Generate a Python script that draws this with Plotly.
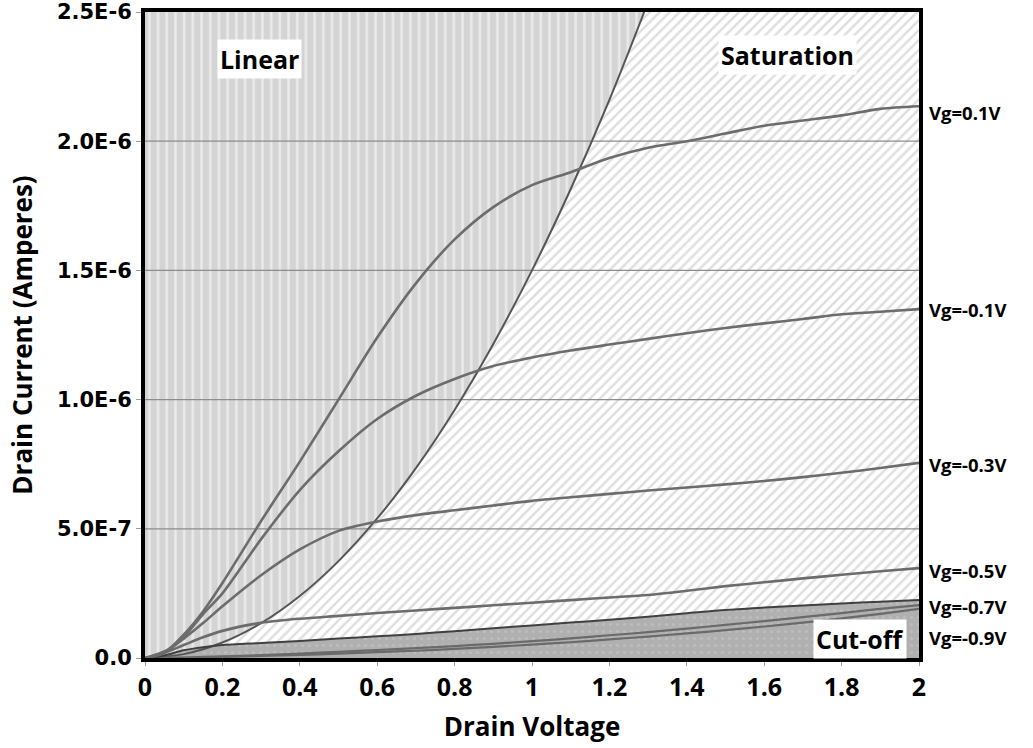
import plotly.graph_objects as go

# Drain voltage grid (V) shared by all transfer curves
drain_v = [0, 0.05, 0.1, 0.15, 0.2, 0.3, 0.4, 0.5, 0.6, 0.7, 0.8, 0.9, 1.0,
           1.1, 1.2, 1.3, 1.4, 1.5, 1.6, 1.7, 1.8, 1.9, 2.0]

# Drain current in microamperes for each gate voltage
id_vg_p01 = [0, 0.02, 0.09, 0.18, 0.29, 0.53, 0.76, 1.0, 1.24, 1.45, 1.62, 1.745, 1.83,
             1.88, 1.935, 1.975, 2.0, 2.03, 2.06, 2.08, 2.10, 2.125, 2.135]
id_vg_m01 = [0, 0.02, 0.08, 0.17, 0.25, 0.46, 0.65, 0.80, 0.925, 1.015, 1.08, 1.13, 1.163,
             1.19, 1.213, 1.235, 1.257, 1.277, 1.295, 1.312, 1.33, 1.34, 1.35]
id_vg_m03 = [0, 0.025, 0.075, 0.135, 0.20, 0.32, 0.42, 0.492, 0.528, 0.553, 0.572, 0.59, 0.608,
             0.622, 0.635, 0.648, 0.66, 0.672, 0.685, 0.70, 0.717, 0.735, 0.755]
id_vg_m05 = [0, 0.02, 0.05, 0.08, 0.105, 0.136, 0.152, 0.163, 0.174, 0.184, 0.194, 0.204, 0.214,
             0.224, 0.234, 0.244, 0.26, 0.278, 0.293, 0.308, 0.322, 0.336, 0.348]
id_vg_m07 = [0, 0.01, 0.03, 0.042, 0.05, 0.058, 0.066, 0.075, 0.084, 0.093, 0.104, 0.115, 0.126,
             0.137, 0.148, 0.16, 0.173, 0.186, 0.195, 0.203, 0.211, 0.218, 0.224]
id_vg_m09 = [0, 0.001, 0.002, 0.004, 0.006, 0.011, 0.017, 0.024, 0.031, 0.038, 0.046, 0.055, 0.065,
             0.076, 0.088, 0.10, 0.114, 0.128, 0.143, 0.158, 0.174, 0.19, 0.205]
id_vg_m11 = [0, 0.0005, 0.001, 0.002, 0.004, 0.008, 0.012, 0.017, 0.023, 0.028, 0.035, 0.043, 0.052,
             0.061, 0.072, 0.083, 0.095, 0.108, 0.122, 0.137, 0.153, 0.171, 0.19]

# Linear / saturation boundary (Vds = Vgs - Vt locus)
sat_v = [0, 0.1, 0.2, 0.3, 0.4, 0.5, 0.6, 0.7, 0.8, 0.9, 1.0, 1.1, 1.2, 1.29]
sat_i = [0, 0.015, 0.06, 0.135, 0.24, 0.375, 0.54, 0.735, 0.96, 1.215, 1.5, 1.815, 2.16, 2.5]

# Axis ticks
x_ticks = [0, 0.2, 0.4, 0.6, 0.8, 1, 1.2, 1.4, 1.6, 1.8, 2]
x_tick_text = ["0", "0.2", "0.4", "0.6", "0.8", "1", "1.2", "1.4", "1.6", "1.8", "2"]
y_ticks = [0, 0.5, 1.0, 1.5, 2.0, 2.5]
y_tick_text = ["0.0", "5.0E-7", "1.0E-6", "1.5E-6", "2.0E-6", "2.5E-6"]

# Curve labels on the right edge
curve_labels = ["Vg=0.1V", "Vg=-0.1V", "Vg=-0.3V", "Vg=-0.5V", "Vg=-0.7V", "Vg=-0.9V"]
curve_label_y = [2.113, 1.347, 0.747, 0.34, 0.201, 0.081]

# Region labels
region_labels = ["Linear", "Saturation", "Cut-off"]
region_x = [0.295, 1.659, 1.848]
region_y = [2.32, 2.333, 0.074]

X_MIN, X_MAX = 0, 2
Y_MIN, Y_MAX = 0, 2.5
scale = 1e-6

def amps(vals):
    return [v * scale for v in vals]

fig = go.Figure()

# Saturation region: hatched background over the whole plot area
fig.add_trace(go.Scatter(
    x=[X_MIN, X_MAX, X_MAX, X_MIN, X_MIN],
    y=amps([Y_MIN, Y_MIN, Y_MAX, Y_MAX, Y_MIN]),
    mode="none", fill="toself", hoverinfo="skip", showlegend=False,
    fillpattern=dict(shape="/", bgcolor="#ffffff", fgcolor="#bdbdbd",
                     size=7, solidity=0.35),
))

# Linear region: above the saturation boundary
fig.add_trace(go.Scatter(
    x=sat_v + [X_MIN, X_MIN],
    y=amps(sat_i + [Y_MAX, 0]),
    mode="none", fill="toself", hoverinfo="skip", showlegend=False,
    fillpattern=dict(shape="|", bgcolor="#d4d4d4", fgcolor="#ffffff",
                     size=8.7, solidity=0.3),
))

# Cut-off region: under the Vg=-0.7V curve
fig.add_trace(go.Scatter(
    x=drain_v, y=amps(id_vg_m07),
    mode="none", fill="tozeroy", hoverinfo="skip", showlegend=False,
    fillpattern=dict(shape=".", bgcolor="#b0b0b0", fgcolor="#cacaca",
                     size=7, solidity=0.15),
))

# Horizontal gridlines, drawn above the shaded regions
for gy in y_ticks[1:-1]:
    fig.add_trace(go.Scatter(
        x=[X_MIN, X_MAX], y=[gy * scale, gy * scale], mode="lines",
        line=dict(color="#8c8c8c", width=1.3), hoverinfo="skip", showlegend=False,
    ))

# Saturation boundary curve
fig.add_trace(go.Scatter(
    x=sat_v, y=amps(sat_i), mode="lines", line_shape="spline",
    line=dict(color="#555555", width=2), showlegend=False, name="Vds,sat",
))

# Drain current curves
curves = [
    ("Vg=-1.1V", id_vg_m11, "#6a6a6a", 2.2),
    ("Vg=-0.9V", id_vg_m09, "#6a6a6a", 2.2),
    ("Vg=-0.7V", id_vg_m07, "#404040", 2.0),
    ("Vg=-0.5V", id_vg_m05, "#6c6c6c", 2.6),
    ("Vg=-0.3V", id_vg_m03, "#6c6c6c", 2.6),
    ("Vg=-0.1V", id_vg_m01, "#6c6c6c", 2.6),
    ("Vg=0.1V", id_vg_p01, "#6c6c6c", 2.6),
]
for name, vals, color, width in curves:
    fig.add_trace(go.Scatter(
        x=drain_v, y=amps(vals), mode="lines", line_shape="spline",
        line=dict(color=color, width=width, smoothing=0.8), name=name, showlegend=False,
    ))

annotations = []
for text, yv in zip(curve_labels, curve_label_y):
    annotations.append(dict(
        x=1.0, xref="paper", xshift=8, y=yv * scale, yref="y",
        text=text, showarrow=False, xanchor="left", yanchor="middle",
        font=dict(family="Open Sans", size=18.5, color="#000000", weight="bold"),
    ))
for text, xv, yv in zip(region_labels, region_x, region_y):
    annotations.append(dict(
        x=xv, y=yv * scale, text=text, showarrow=False,
        xanchor="center", yanchor="middle", bgcolor="#ffffff", borderpad=2,
        font=dict(family="Open Sans", size=25, color="#000000", weight="bold"),
    ))

fig.update_layout(
    width=1033, height=748,
    margin=dict(l=145, r=114, t=12, b=90),
    paper_bgcolor="#ffffff", plot_bgcolor="#ffffff",
    annotations=annotations,
    xaxis=dict(
        range=[X_MIN, X_MAX], tickvals=x_ticks, ticktext=x_tick_text,
        showgrid=False, zeroline=False, automargin=False,
        showline=True, linecolor="#000000", linewidth=4, mirror=True,
        ticks="outside", ticklen=4, tickcolor="#9a9a9a", tickwidth=1,
        tickfont=dict(family="Open Sans", size=25, color="#000000", weight="bold"),
        title=dict(text="Drain Voltage", standoff=17,
                   font=dict(family="Open Sans", size=26, color="#000000", weight="bold")),
    ),
    yaxis=dict(
        range=[Y_MIN * scale, Y_MAX * scale], tickvals=amps(y_ticks), ticktext=y_tick_text,
        showgrid=False, zeroline=False, automargin=False,
        showline=True, linecolor="#000000", linewidth=4, mirror=True,
        ticks="outside", ticklen=5, tickcolor="#9a9a9a", tickwidth=1,
        tickfont=dict(family="DejaVu Sans", size=21, color="#000000", weight="bold"),
        title=dict(text="Drain Current (Amperes)", standoff=18,
                   font=dict(family="Open Sans", size=26, color="#000000", weight="bold")),
    ),
)

fig.write_html("out.html")
